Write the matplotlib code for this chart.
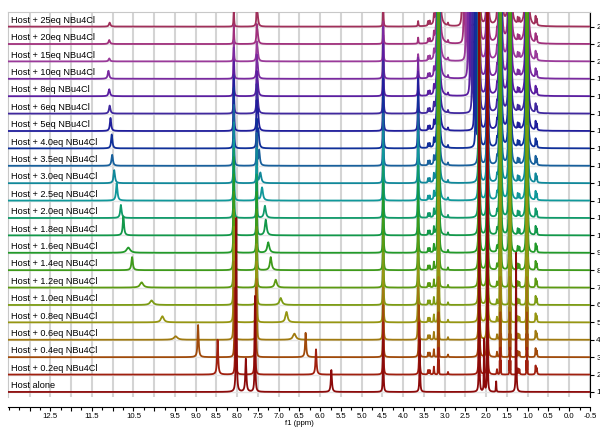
import numpy as np
import matplotlib.pyplot as plt
from matplotlib.ticker import FixedLocator, MultipleLocator

plt.rcParams["font.family"] = ["Liberation Sans", "DejaVu Sans"]

labels = ["Host alone", "Host + 0.2eq NBu4Cl", "Host + 0.4eq NBu4Cl", "Host + 0.6eq NBu4Cl",
          "Host + 0.8eq NBu4Cl", "Host + 1.0eq NBu4Cl", "Host + 1.2eq NBu4Cl", "Host + 1.4eq NBu4Cl",
          "Host + 1.6eq NBu4Cl", "Host + 1.8eq NBu4Cl", "Host + 2.0eq NBu4Cl", "Host + 2.5eq NBu4Cl",
          "Host + 3.0eq NBu4Cl", "Host + 3.5eq NBu4Cl", "Host + 4.0eq NBu4Cl", "Host + 5eq NBu4Cl",
          "Host + 6eq NBu4Cl", "Host + 8eq NBu4Cl", "Host + 10eq NBu4Cl", "Host + 15eq NBu4Cl",
          "Host + 20eq NBu4Cl", "Host + 25eq NBu4Cl"]
colors = ["#8c0a0a", "#a0200f", "#a04a0a", "#a07a10", "#969612", "#7c9c14",
          "#5c9a12", "#3e9a1a", "#229a2a", "#12984a", "#109a6a", "#10989a",
          "#10889a", "#18609c", "#10309a", "#201e9c", "#40289e", "#5a1ea0",
          "#7a2aa0", "#9a3a9a", "#a0307c", "#a0305a"]

# NH signal moving downfield (7.8 -> 11.1 ppm)
nha_ppm = [7.79, 8.47, 8.94, 9.48, 9.80, 10.06, 10.30, 10.53, 10.62, 10.74, 10.80,
           10.90, 10.96, 11.01, 11.02, 11.05, 11.07, 11.08, 11.10, 11.08, 11.08, 11.07]
nha_h = [1.9, 2.0, 1.85, 0.2, 0.35, 0.26, 0.3, 0.75, 0.3, 1.1, 0.75,
         1.0, 0.75, 0.63, 0.8, 0.75, 0.46, 0.4, 0.46, 0.17, 0.23, 0.23]
nha_w = [0.015, 0.015, 0.015, 0.05, 0.04, 0.045, 0.045, 0.02, 0.05, 0.018, 0.02,
         0.02, 0.02, 0.02, 0.018, 0.018, 0.02, 0.02, 0.02, 0.02, 0.02, 0.02]

# second NH signal (5.7 -> 7.5 ppm)
nhb_ppm = [5.73, 6.10, 6.35, 6.62, 6.81, 6.95, 7.07, 7.19, 7.25, 7.31, 7.33,
           7.40, 7.44, 7.47, 7.49, 7.50, 7.51, 7.51, 7.51, 7.51, 7.51, 7.51]
nhb_h = [1.26, 1.45, 1.4, 0.35, 0.6, 0.4, 0.45, 0.75, 0.6, 0.9, 0.7,
         0.75, 0.6, 0.9, 1.1, 1.2, 1.0, 0.9, 0.8, 0.7, 0.7, 0.7]
nhb_w = [0.015, 0.015, 0.015, 0.04, 0.03, 0.035, 0.03, 0.025, 0.03, 0.025, 0.025,
         0.025, 0.025, 0.02, 0.02, 0.02, 0.02, 0.02, 0.02, 0.02, 0.02, 0.02]

# aromatic host signals
ar1_ppm = [8.02, 8.04, 8.06] + [8.08] * 19
ar1_h = [10.0, 5.0, 4.0, 4.5, 4.5, 4.5, 4.5, 4.5, 4.5, 4.5, 4.0,
         3.5, 3.5, 3.5, 3.5, 3.0, 2.2, 2.0, 1.8, 1.2, 1.1, 1.0]
ar2_ppm = [7.57, 7.57, 7.55] + [7.53] * 19
ar2_h = [5.5, 4.5, 4.0, 3.5, 3.5, 3.5, 3.5, 3.5, 3.5, 3.0, 2.5,
         2.0, 2.0, 1.8, 1.5, 1.4, 1.2, 1.0, 1.0, 0.8, 0.8, 0.8]

# aliphatic host signals
p45_ppm = [4.48] * 22
p45_h = [3.0] * 19 + [1.5, 1.3, 1.2]
p36_ppm = [3.60, 3.61, 3.62] + [3.64] * 19
p36_h = [3.0] * 16 + [1.6, 1.4, 1.2, 0.4, 0.35, 0.3]

# host alone only: extra aliphatic peaks
free_ppm = [2.05, 1.76, 1.28]
free_h = [3.0, 0.6, 8.0]

# NBu4+ signals and solvent signals (go far off scale)
nbu_ppm = [3.15, 1.66, 1.43, 1.02]
nbu_h = [0, 1.5, 2.5, 3.5, 7, 10, 20, 40, 60, 80, 100,
         120, 140, 160, 180, 200, 220, 240, 260, 280, 300, 300]
solv_ppm = [2.17, 1.97]
solv_h = [60, 70, 80, 90, 100, 110, 120, 130, 140, 150, 160,
          170, 180, 190, 200, 210, 220, 230, 240, 250, 260, 270]

# water for the high loadings
wat_ppm = [2.20] * 14 + [2.25, 2.28, 2.33, 2.38, 2.43, 2.48, 2.53, 2.57]
wat_h = [0] * 14 + [40, 40, 60, 60, 60, 60, 60, 60]

# small multiplets seen in every titration point
small_ppm = [3.40, 3.36, 3.26, 2.92, 1.74, 1.24, 1.20, 0.81, 0.78]
small_h = [0.25, 0.25, 0.45, 0.15, 0.3, 0.35, 0.3, 0.5, 0.35]

x = np.linspace(-0.6, 13.6, 40000)


def lor(x0, h, w):
    return h / (1 + ((x - x0) / w) ** 2)


fig = plt.figure(figsize=(6, 4.28), dpi=100)
ax = fig.add_axes([8 / 600, 31 / 428, 582 / 600, 385 / 428])

for i in range(22):
    y = lor(nha_ppm[i], nha_h[i], nha_w[i]) + lor(nhb_ppm[i], nhb_h[i], nhb_w[i])
    y += lor(ar1_ppm[i], ar1_h[i], 0.008) + lor(ar2_ppm[i], ar2_h[i], 0.008)
    y += lor(p45_ppm[i], p45_h[i], 0.008) + lor(p36_ppm[i], p36_h[i], 0.008)
    for c in nbu_ppm:
        for d, f in [(-0.014, 0.5), (0, 1), (0.014, 0.5)]:
            y += lor(c + d, nbu_h[i] * f, 0.0025)
    for c in solv_ppm:
        y += lor(c, solv_h[i], 0.0022)
    if wat_h[i] > 0:
        y += lor(wat_ppm[i], wat_h[i], 0.003)
    if i == 0:
        for c, h in zip(free_ppm, free_h):
            y += lor(c, h, 0.006)
    else:
        for c, h in zip(small_ppm, small_h):
            y += lor(c, h, 0.008)
    ax.plot(x, y + i + 1, color=colors[i], lw=1.3, zorder=50 - i)
    ax.text(13.45, i + 1.1, labels[i], fontsize=6.6, va="bottom", ha="left", zorder=60)

ax.set_xlim(13.52, -0.5)
ax.set_ylim(0.71, 22.84)

major = np.arange(13.0, -0.51, -0.5)
ax.xaxis.set_major_locator(FixedLocator(major))
ax.set_xticklabels(["" if v in (13.0, 12.0, 11.0, 10.0) else f"{v:.1f}" for v in major])
ax.xaxis.set_minor_locator(MultipleLocator(0.25))
ax.tick_params(axis="x", which="major", length=3, width=0.8, pad=1, labelsize=5.6)
ax.tick_params(axis="x", which="minor", length=2.2, width=0.8)
ax.set_xlabel("f1 (ppm)", fontsize=5.6, labelpad=0)

ax.yaxis.tick_right()
ax.set_yticks(range(1, 23))
ax.set_yticklabels([str(k) for k in range(1, 23)])
ax.tick_params(axis="y", length=3, width=0.8, pad=1.5, labelsize=6)

ax.grid(axis="x", color="#d4d4d4", lw=1.5, zorder=0)
ax.grid(axis="y", color="#e4e4e4", lw=1.0, zorder=0)
ax.set_axisbelow(True)

ax.spines["bottom"].set_position(("outward", 7.2))
for s in ("left", "top"):
    ax.spines[s].set_color("#c8c8c8")
ax.spines["right"].set_linewidth(0.8)
ax.spines["bottom"].set_linewidth(0.8)

fig.savefig("out.png", dpi=100)
